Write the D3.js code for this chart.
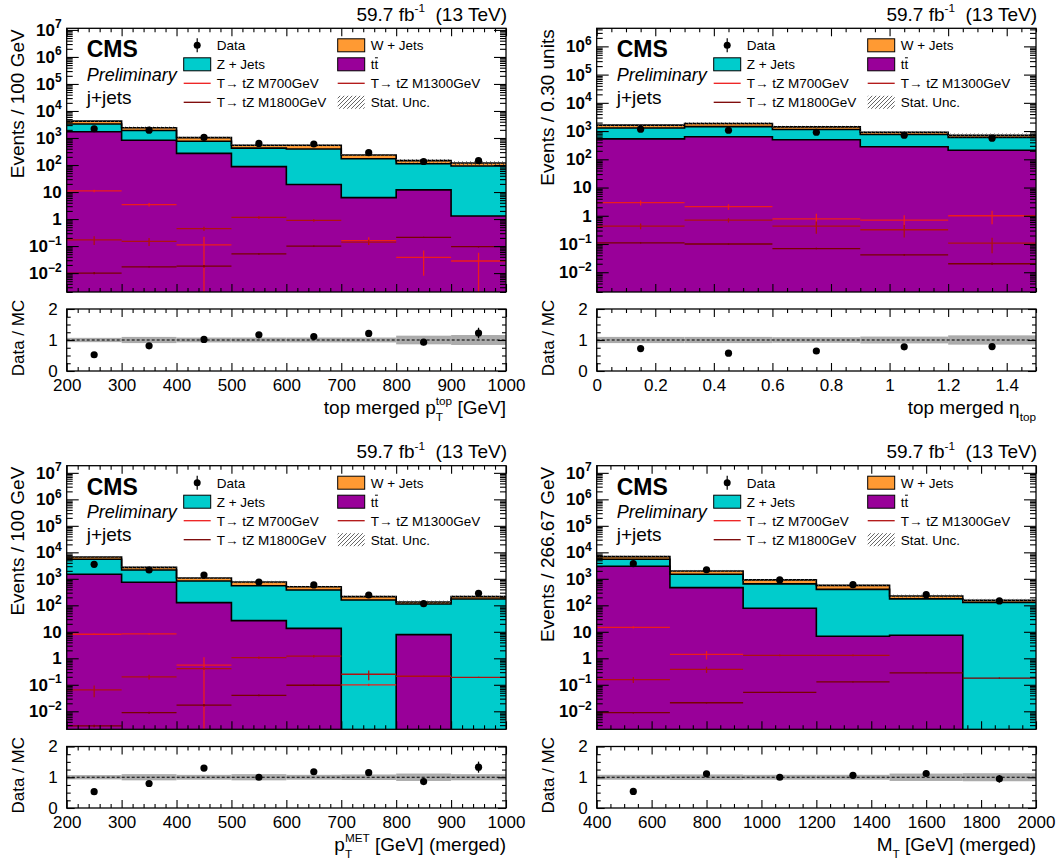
<!DOCTYPE html>
<html>
<head>
<meta charset="utf-8">
<script src="https://cdn.jsdelivr.net/npm/d3@7"></script>
<style>
  body { margin: 0; background: #fff; }
  svg { font-family: "Liberation Sans", Arial, Helvetica, sans-serif; }
</style>
</head>
<body>
<svg id="c" width="1060" height="861"></svg>
<script>
// ---------------- data ----------------
// top merged pT (GeV)
const ptTopEdges    = [200, 300, 400, 500, 600, 700, 800, 900, 1000];
const ptTopTTbar    = [1700, 820, 270, 87, 19, 6.2, 12, 1.3];
const ptTopZJets    = [1600, 1080, 490, 333, 371, 164, 100, 91];
const ptTopWJets    = [900, 500, 270, 120, 150, 65, 33, 26];
const ptTopData     = [2200, 1950, 1050, 630, 600, 285, 135, 145];
const ptTopRatioErr = [0.02, 0.02, 0.03, 0.04, 0.05, 0.07, 0.10, 0.17];
const ptTopStatUnc  = [0.07, 0.10, 0.08, 0.08, 0.08, 0.08, 0.14, 0.16];
const ptTopM700     = [11, 3.4, 0.11, null, null, 0.16, 0.038, 0.028];
const ptTopM700Err  = [1.2, 0.5, 0.11, 0, 0, 0.05, 0.03, 0.028];
const ptTopM1300    = [0.17, 0.15, 0.44, 1.15, 0.9, 0.14, null, null];
const ptTopM1300Err = [0.06, 0.05, 0.08, 0.12, 0.1, 0.03, 0, 0];
const ptTopM1800    = [0.010, 0.017, 0.018, 0.051, 0.10, null, 0.21, 0.095];
const ptTopM1800Err = [0.001, 0.001, 0.002, 0.003, 0.005, 0, 0.01, 0.006];

// top merged eta
const etaEdges    = [0, 0.3, 0.6, 0.9, 1.2, 1.5];
const etaTTbar    = [530, 630, 490, 280, 209];
const etaZJets    = [760, 810, 640, 475, 391];
const etaWJets    = [330, 420, 280, 155, 110];
const etaData     = [1170, 1070, 910, 710, 560];
const etaRatioErr = [0.02, 0.02, 0.02, 0.03, 0.03];
const etaStatUnc  = [0.10, 0.10, 0.09, 0.11, 0.15];
const etaM700     = [2.9, 2.1, 0.78, 0.7, 1.0];
const etaM700Err  = [0.6, 0.45, 0.4, 0.35, 0.5];
const etaM1300    = [0.43, 0.7, 0.43, 0.32, 0.107];
const etaM1300Err = [0.1, 0.12, 0.2, 0.15, 0.06];
const etaM1800    = [0.11, 0.10, 0.069, 0.041, 0.020];
const etaM1800Err = [0.005, 0.005, 0.004, 0.003, 0.002];

// MET pT (GeV)
const metEdges    = [200, 300, 400, 500, 600, 700, 800, 900, 1000];
const metTTbar    = [1480, 740, 126, 26.5, 13.5, 0, 7.8, 0];
const metZJets    = [3970, 1410, 704, 524, 367, 159, 104, 174];
const metWJets    = [1200, 550, 240, 210, 120, 54, 22, 39];
const metData     = [3530, 2150, 1390, 760, 590, 245, 115, 283];
const metRatioErr = [0.02, 0.02, 0.03, 0.04, 0.05, 0.08, 0.10, 0.18];
const metStatUnc  = [0.07, 0.10, 0.08, 0.10, 0.08, 0.09, 0.12, 0.10];
const metM700     = [8.1, 8.3, 0.55, null, null, 0.10, null, null];
const metM700Err  = [0.5, 0.6, 0.55, 0, 0, 0.01, 0, 0];
const metM1300    = [0.064, 0.2, 0.41, 1.06, 1.2, 0.25, 0.21, 0.19];
const metM1300Err = [0.03, 0.04, 0.05, 0.1, 0.12, 0.1, 0.01, 0.01];
const metM1800    = [0.0028, 0.0089, 0.017, 0.040, 0.096, null, null, null];
const metM1800Err = [0.0003, 0.0008, 0.002, 0.003, 0.006, 0, 0, 0];

// transverse mass (GeV)
const mtEdges    = [400, 666.67, 933.33, 1200, 1466.67, 1733.33, 2000];
const mtTTbar    = [2970, 465, 77, 6.8, 7.4, 0];
const mtZJets    = [2480, 1015, 568, 393, 167, 129];
const mtWJets    = [1450, 500, 265, 165, 51, 26];
const mtData     = [3730, 2200, 910, 600, 253, 147];
const mtRatioErr = [0.02, 0.02, 0.03, 0.04, 0.10, 0.12];
const mtStatUnc  = [0.08, 0.09, 0.08, 0.08, 0.12, 0.13];
const mtM700     = [14.8, 1.4, null, null, null, null];
const mtM700Err  = [1.5, 0.5, 0, 0, 0, 0];
const mtM1300    = [0.156, 0.38, 1.3, 1.3, null, null];
const mtM1300Err = [0.04, 0.1, 0.1, 0.1, 0, 0];
const mtM1800    = [0.0089, 0.021, 0.052, 0.128, 0.28, 0.18];
const mtM1800Err = [0.0006, 0.0015, 0.003, 0.006, 0.01, 0.008];

// text
const legendLabels = ["Data", "W + Jets", "Z + Jets", "tt", "T\u2192 tZ M700GeV", "T\u2192 tZ M1300GeV", "T\u2192 tZ M1800GeV", "Stat. Unc."];
const lumiText = "59.7 fb";
const lumiSup = "-1";
const lumiTail = "  (13 TeV)";

// ---------------- styles ----------------
const COL = { w: "#ff9a33", z: "#00cccc", tt: "#990099" };
const SIG_COL = ["#ee1c1c", "#b01010", "#7a0000"];

const svg = d3.select("#c");
const defs = svg.append("defs");
defs.append("pattern").attr("id", "hatch").attr("patternUnits", "userSpaceOnUse")
  .attr("width", 4).attr("height", 4)
  .append("path").attr("d", "M-1,1 l2,-2 M0,4 l4,-4 M3,5 l2,-2")
  .attr("stroke", "#555").attr("stroke-width", 0.9);

// text made of pieces with stacked sub/superscripts, right aligned at xRight
function richText(parent, parts, xRight, yBase, size) {
  const grp = parent.append("g");
  let cx = 0;
  parts.forEach(p => {
    if (p.t !== undefined) {
      const el = grp.append("text").attr("x", cx).attr("y", yBase)
        .attr("font-size", size).style("white-space", "pre").text(p.t);
      cx += el.node().getComputedTextLength();
    } else {
      let w = 0;
      if (p.sub) {
        const el = grp.append("text").attr("x", cx).attr("y", yBase + size * 0.38)
          .attr("font-size", size * 0.62).text(p.sub);
        w = Math.max(w, el.node().getComputedTextLength());
      }
      if (p.sup) {
        const el = grp.append("text").attr("x", cx).attr("y", yBase - size * 0.45)
          .attr("font-size", size * 0.62).text(p.sup);
        w = Math.max(w, el.node().getComputedTextLength());
      }
      cx += w;
    }
  });
  grp.attr("transform", `translate(${xRight - cx},0)`);
  return grp;
}

function logTicks(dom) {
  const lo = Math.ceil(Math.log10(dom[0]) - 1e-9), hi = Math.floor(Math.log10(dom[1]) + 1e-9);
  const majors = d3.range(lo, hi + 1).map(e => +(Math.pow(10, e)).toPrecision(6));
  const minors = [];
  for (let e = lo - 1; e <= hi; e++) for (let k = 2; k <= 9; k++) {
    const v = +(k * Math.pow(10, e)).toPrecision(6);
    if (v > dom[0] && v < dom[1]) minors.push(v);
  }
  return { majors, minors };
}

function drawPanel(p) {
  const g = svg.append("g");
  const edges = p.edges, nb = edges.length - 1;
  const centers = d3.range(nb).map(i => (edges[i] + edges[i + 1]) / 2);
  const x = d3.scaleLinear().domain([edges[0], edges[nb]]).range([p.left, p.right]);
  const y = d3.scaleLog().domain(p.yDomain).range([p.bottom, p.top]);
  const yr = d3.scaleLinear().domain([0, 2]).range([p.rBottom, p.rTop]);
  const yy = v => (v > 0 ? Math.max(p.top - 2, Math.min(p.bottom + 2, y(v))) : p.bottom + 2);

  const low = p.tt;
  const mid = low.map((v, i) => v + p.zj[i]);
  const tot = mid.map((v, i) => v + p.wj[i]);

  const clipId = "clip-" + p.id;
  defs.append("clipPath").attr("id", clipId).append("rect")
    .attr("x", p.left).attr("y", p.top).attr("width", p.right - p.left).attr("height", p.bottom - p.top);
  const plot = g.append("g").attr("clip-path", `url(#${clipId})`);

  const stepLine = vals => {
    let d = `M${x(edges[0])},${yy(vals[0])}`;
    for (let i = 0; i < nb; i++) d += `V${yy(vals[i])}H${x(edges[i + 1])}`;
    return d;
  };
  const stepArea = vals => stepLine(vals) + `V${p.bottom + 2}H${x(edges[0])}Z`;

  // stacked backgrounds
  [[tot, COL.w], [mid, COL.z], [low, COL.tt]].forEach(([vals, c]) =>
    plot.append("path").attr("d", stepArea(vals)).attr("fill", c));
  [tot, mid, low].forEach(vals =>
    plot.append("path").attr("d", stepLine(vals)).attr("fill", "none")
      .attr("stroke", "#000").attr("stroke-width", 1.6));

  // statistical uncertainty band on the total
  plot.selectAll(null).data(d3.range(nb)).join("rect")
    .attr("x", i => x(edges[i])).attr("width", i => x(edges[i + 1]) - x(edges[i]))
    .attr("y", i => yy(tot[i] * (1 + p.unc[i])))
    .attr("height", i => Math.max(1.5, yy(tot[i] * (1 - p.unc[i])) - yy(tot[i] * (1 + p.unc[i]))))
    .attr("fill", "url(#hatch)");

  // signal histograms
  p.signals.forEach((s, k) => {
    s.vals.forEach((v, i) => {
      if (v == null) return;
      plot.append("line").attr("x1", x(edges[i])).attr("x2", x(edges[i + 1]))
        .attr("y1", yy(v)).attr("y2", yy(v)).attr("stroke", SIG_COL[k]).attr("stroke-width", 1.3);
      const e = s.errs[i];
      plot.append("line").attr("x1", x(centers[i])).attr("x2", x(centers[i]))
        .attr("y1", yy(v + e)).attr("y2", yy(v - e)).attr("stroke", SIG_COL[k]).attr("stroke-width", 1.3);
    });
  });

  // data
  plot.selectAll(null).data(d3.range(nb)).join("line")
    .attr("x1", i => x(centers[i])).attr("x2", i => x(centers[i]))
    .attr("y1", i => yy(p.data[i] + p.rErr[i] * tot[i])).attr("y2", i => yy(p.data[i] - p.rErr[i] * tot[i]))
    .attr("stroke", "#000").attr("stroke-width", 1.3);
  plot.selectAll(null).data(d3.range(nb)).join("circle")
    .attr("cx", i => x(centers[i])).attr("cy", i => yy(p.data[i])).attr("r", 3.6).attr("fill", "#000");

  // frame
  g.append("rect").attr("x", p.left).attr("y", p.top).attr("width", p.right - p.left)
    .attr("height", p.bottom - p.top).attr("fill", "none").attr("stroke", "#000").attr("stroke-width", 1.3);

  // main axes
  const lt = logTicks(p.yDomain);
  const styleAxis = a => { a.select(".domain").remove(); a.attr("font-family", null).attr("font-size", null); a.selectAll("line").attr("stroke-width", 1.1); };
  const yAxL = g.append("g").attr("transform", `translate(${p.left},0)`)
    .call(d3.axisLeft(y).tickValues(lt.majors).tickSizeInner(-12).tickSizeOuter(0).tickPadding(5).tickFormat(() => ""))
    .call(styleAxis);
  yAxL.selectAll(".tick text").attr("font-size", 17).attr("font-weight", "bold").attr("fill", "#000")
    .each(function (d) {
      const t = d3.select(this);
      const e = Math.round(Math.log10(d));
      if (e === 0) t.text("1");
      else if (e === 1) t.text("10");
      else {
        t.append("tspan").text("10");
        t.append("tspan").attr("dy", "-0.62em").attr("font-size", 12).text(e < 0 ? "\u2212" + (-e) : String(e));
      }
    });
  g.append("g").attr("transform", `translate(${p.left},0)`)
    .call(d3.axisLeft(y).tickValues(lt.minors).tickSizeInner(-6).tickSizeOuter(0).tickFormat(() => "")).call(styleAxis);
  g.append("g").attr("transform", `translate(${p.right},0)`)
    .call(d3.axisRight(y).tickValues(lt.majors).tickSizeInner(-12).tickSizeOuter(0).tickFormat(() => "")).call(styleAxis);
  g.append("g").attr("transform", `translate(${p.right},0)`)
    .call(d3.axisRight(y).tickValues(lt.minors).tickSizeInner(-6).tickSizeOuter(0).tickFormat(() => "")).call(styleAxis);
  [[p.bottom, d3.axisBottom], [p.top, d3.axisTop]].forEach(([yy0, ax]) => {
    g.append("g").attr("transform", `translate(0,${yy0})`)
      .call(ax(x).tickValues(p.xMajors).tickSizeInner(-8).tickSizeOuter(0).tickFormat(() => "")).call(styleAxis);
    g.append("g").attr("transform", `translate(0,${yy0})`)
      .call(ax(x).tickValues(p.xMinors).tickSizeInner(-4).tickSizeOuter(0).tickFormat(() => "")).call(styleAxis);
  });

  // ratio panel
  const rg = g.append("g");
  rg.selectAll(null).data(d3.range(nb)).join("rect")
    .attr("x", i => x(edges[i])).attr("width", i => x(edges[i + 1]) - x(edges[i]))
    .attr("y", i => yr(1 + p.unc[i])).attr("height", i => yr(1 - p.unc[i]) - yr(1 + p.unc[i]))
    .attr("fill", "#ababab");
  rg.append("line").attr("x1", p.left).attr("x2", p.right).attr("y1", yr(1)).attr("y2", yr(1))
    .attr("stroke", "#000").attr("stroke-width", 1.1).attr("stroke-dasharray", "3,2");
  const ratio = p.data.map((d, i) => d / tot[i]);
  rg.selectAll(null).data(d3.range(nb)).join("line")
    .attr("x1", i => x(centers[i])).attr("x2", i => x(centers[i]))
    .attr("y1", i => yr(ratio[i] + p.rErr[i])).attr("y2", i => yr(ratio[i] - p.rErr[i]))
    .attr("stroke", "#000").attr("stroke-width", 1.3);
  rg.selectAll(null).data(d3.range(nb)).join("circle")
    .attr("cx", i => x(centers[i])).attr("cy", i => yr(ratio[i])).attr("r", 3.6).attr("fill", "#000");
  rg.append("rect").attr("x", p.left).attr("y", p.rTop).attr("width", p.right - p.left)
    .attr("height", p.rBottom - p.rTop).attr("fill", "none").attr("stroke", "#000").attr("stroke-width", 1.3);

  const rMinors = [0.25, 0.5, 0.75, 1.25, 1.5, 1.75];
  const ryAx = rg.append("g").attr("transform", `translate(${p.left},0)`)
    .call(d3.axisLeft(yr).tickValues([0, 1, 2]).tickSizeInner(-8).tickSizeOuter(0).tickPadding(9).tickFormat(d3.format("d")))
    .call(styleAxis);
  ryAx.selectAll(".tick text").attr("font-size", 17).attr("fill", "#000");
  rg.append("g").attr("transform", `translate(${p.left},0)`)
    .call(d3.axisLeft(yr).tickValues(rMinors).tickSizeInner(-4).tickSizeOuter(0).tickFormat(() => "")).call(styleAxis);
  rg.append("g").attr("transform", `translate(${p.right},0)`)
    .call(d3.axisRight(yr).tickValues([0, 1, 2]).tickSizeInner(-8).tickSizeOuter(0).tickFormat(() => "")).call(styleAxis);
  rg.append("g").attr("transform", `translate(${p.right},0)`)
    .call(d3.axisRight(yr).tickValues(rMinors).tickSizeInner(-4).tickSizeOuter(0).tickFormat(() => "")).call(styleAxis);
  const rxAx = rg.append("g").attr("transform", `translate(0,${p.rBottom})`)
    .call(d3.axisBottom(x).tickValues(p.xMajors).tickSizeInner(-8).tickSizeOuter(0).tickPadding(8).tickFormat(p.xFormat))
    .call(styleAxis);
  rxAx.selectAll(".tick text").attr("font-size", 17).attr("fill", "#000");
  rg.append("g").attr("transform", `translate(0,${p.rBottom})`)
    .call(d3.axisBottom(x).tickValues(p.xMinors).tickSizeInner(-4).tickSizeOuter(0).tickFormat(() => "")).call(styleAxis);
  rg.append("g").attr("transform", `translate(0,${p.rTop})`)
    .call(d3.axisTop(x).tickValues(p.xMajors).tickSizeInner(-8).tickSizeOuter(0).tickFormat(() => "")).call(styleAxis);
  rg.append("g").attr("transform", `translate(0,${p.rTop})`)
    .call(d3.axisTop(x).tickValues(p.xMinors).tickSizeInner(-4).tickSizeOuter(0).tickFormat(() => "")).call(styleAxis);

  // titles
  const tx = p.left - 42.5;
  g.append("text").attr("transform", `translate(${tx},${p.top + 1}) rotate(-90)`)
    .attr("text-anchor", "end").attr("font-size", 19).text(p.yTitle);
  g.append("text").attr("transform", `translate(${tx},${(p.rTop + p.rBottom) / 2 - 2}) rotate(-90)`)
    .attr("text-anchor", "middle").attr("font-size", 17).text("Data / MC");
  richText(g, p.xTitle, p.right, p.rBottom + 43, 19);
  richText(g, [{ t: lumiText }, { sup: lumiSup }, { t: lumiTail }], p.right + 1, p.top - 7.6, 19);

  // CMS label
  g.append("text").attr("x", p.left + 20).attr("y", p.top + 29).attr("font-size", 23).attr("font-weight", "bold").text("CMS");
  g.append("text").attr("x", p.left + 20).attr("y", p.top + 52.5).attr("font-size", 18).attr("font-style", "italic").text("Preliminary");
  g.append("text").attr("x", p.left + 20).attr("y", p.top + 75.5).attr("font-size", 19).text("j+jets");

  // legend
  const cols = [p.left + 117, p.left + 271];
  const rows = [17, 36, 55, 74].map(r => p.top + r);
  const bw = 27, bh = 13, fs = 13.5;
  const entries = [
    { c: 0, r: 0, kind: "data" }, { c: 1, r: 0, kind: "box", fill: COL.w },
    { c: 0, r: 1, kind: "box", fill: COL.z }, { c: 1, r: 1, kind: "box", fill: COL.tt },
    { c: 0, r: 2, kind: "line", col: SIG_COL[0] }, { c: 1, r: 2, kind: "line", col: SIG_COL[1] },
    { c: 0, r: 3, kind: "line", col: SIG_COL[2] }, { c: 1, r: 3, kind: "hatch" }
  ];
  entries.forEach((e, k) => {
    const bx = cols[e.c], cy = rows[e.r];
    if (e.kind === "data") {
      g.append("line").attr("x1", bx + bw / 2).attr("x2", bx + bw / 2).attr("y1", cy - 7).attr("y2", cy + 7).attr("stroke", "#000").attr("stroke-width", 1.2);
      g.append("circle").attr("cx", bx + bw / 2).attr("cy", cy).attr("r", 3.5).attr("fill", "#000");
    } else if (e.kind === "box") {
      g.append("rect").attr("x", bx).attr("y", cy - bh / 2).attr("width", bw).attr("height", bh)
        .attr("fill", e.fill).attr("stroke", "#000").attr("stroke-width", 1);
    } else if (e.kind === "line") {
      g.append("line").attr("x1", bx).attr("x2", bx + bw).attr("y1", cy).attr("y2", cy).attr("stroke", e.col).attr("stroke-width", 1.3);
    } else {
      g.append("rect").attr("x", bx).attr("y", cy - bh / 2).attr("width", bw).attr("height", bh).attr("fill", "url(#hatch)");
    }
    const lt2 = g.append("text").attr("x", bx + bw + 6).attr("y", cy + 5).attr("font-size", fs).text(legendLabels[k]);
    if (legendLabels[k] === "tt") {
      const w1 = lt2.node().getSubStringLength(0, 1), w2 = lt2.node().getComputedTextLength();
      g.append("line").attr("x1", bx + bw + 6 + w1 + 0.5).attr("x2", bx + bw + 6 + w2 - 0.3)
        .attr("y1", cy - 6.5).attr("y2", cy - 6.5).attr("stroke", "#000").attr("stroke-width", 1);
    }
  });
}

const range = (a, b, s) => d3.range(Math.round((b - a) / s) + 1).map(i => +(a + i * s).toFixed(6));
const withoutMajors = (mins, majs) => mins.filter(v => !majs.some(m => Math.abs(m - v) < 1e-6));

const ptMaj = range(200, 1000, 100), ptMin = withoutMajors(range(200, 1000, 20), ptMaj);
const etaMaj = range(0, 1.4, 0.2), etaMin = withoutMajors(range(0, 1.5, 0.05), etaMaj);
const mtMaj = range(400, 2000, 200), mtMin = withoutMajors(range(400, 2000, 50), mtMaj);

const topRow = { top: 28.3, bottom: 292, rTop: 309, rBottom: 371 };
const botRow = { top: 465.7, bottom: 729.3, rTop: 746.5, rBottom: 808 };
const leftCol = { left: 66.7, right: 506 };
const rightCol = { left: 596.7, right: 1036 };

drawPanel(Object.assign({ id: "pt", edges: ptTopEdges, tt: ptTopTTbar, zj: ptTopZJets, wj: ptTopWJets, data: ptTopData,
  rErr: ptTopRatioErr, unc: ptTopStatUnc,
  signals: [{ vals: ptTopM700, errs: ptTopM700Err }, { vals: ptTopM1300, errs: ptTopM1300Err }, { vals: ptTopM1800, errs: ptTopM1800Err }],
  yDomain: [Math.pow(10, -2.70), Math.pow(10, 7.06)], xMajors: ptMaj, xMinors: ptMin, xFormat: d3.format("d"),
  yTitle: "Events / 100 GeV", xTitle: [{ t: "top merged p" }, { sub: "T", sup: "top" }, { t: " [GeV]" }] }, topRow, leftCol));

drawPanel(Object.assign({ id: "eta", edges: etaEdges, tt: etaTTbar, zj: etaZJets, wj: etaWJets, data: etaData,
  rErr: etaRatioErr, unc: etaStatUnc,
  signals: [{ vals: etaM700, errs: etaM700Err }, { vals: etaM1300, errs: etaM1300Err }, { vals: etaM1800, errs: etaM1800Err }],
  yDomain: [Math.pow(10, -2.70), Math.pow(10, 6.64)], xMajors: etaMaj, xMinors: etaMin, xFormat: d3.format("~g"),
  yTitle: "Events / 0.30 units", xTitle: [{ t: "top merged \u03b7" }, { sub: "top" }] }, topRow, rightCol));

drawPanel(Object.assign({ id: "met", edges: metEdges, tt: metTTbar, zj: metZJets, wj: metWJets, data: metData,
  rErr: metRatioErr, unc: metStatUnc,
  signals: [{ vals: metM700, errs: metM700Err }, { vals: metM1300, errs: metM1300Err }, { vals: metM1800, errs: metM1800Err }],
  yDomain: [Math.pow(10, -2.68), Math.pow(10, 7.27)], xMajors: ptMaj, xMinors: ptMin, xFormat: d3.format("d"),
  yTitle: "Events / 100 GeV", xTitle: [{ t: "p" }, { sub: "T", sup: "MET" }, { t: " [GeV] (merged)" }] }, botRow, leftCol));

drawPanel(Object.assign({ id: "mt", edges: mtEdges, tt: mtTTbar, zj: mtZJets, wj: mtWJets, data: mtData,
  rErr: mtRatioErr, unc: mtStatUnc,
  signals: [{ vals: mtM700, errs: mtM700Err }, { vals: mtM1300, errs: mtM1300Err }, { vals: mtM1800, errs: mtM1800Err }],
  yDomain: [Math.pow(10, -2.68), Math.pow(10, 7.27)], xMajors: mtMaj, xMinors: mtMin, xFormat: d3.format("d"),
  yTitle: "Events / 266.67 GeV", xTitle: [{ t: "M" }, { sub: "T" }, { t: " [GeV] (merged)" }] }, botRow, rightCol));
</script>
</body>
</html>
